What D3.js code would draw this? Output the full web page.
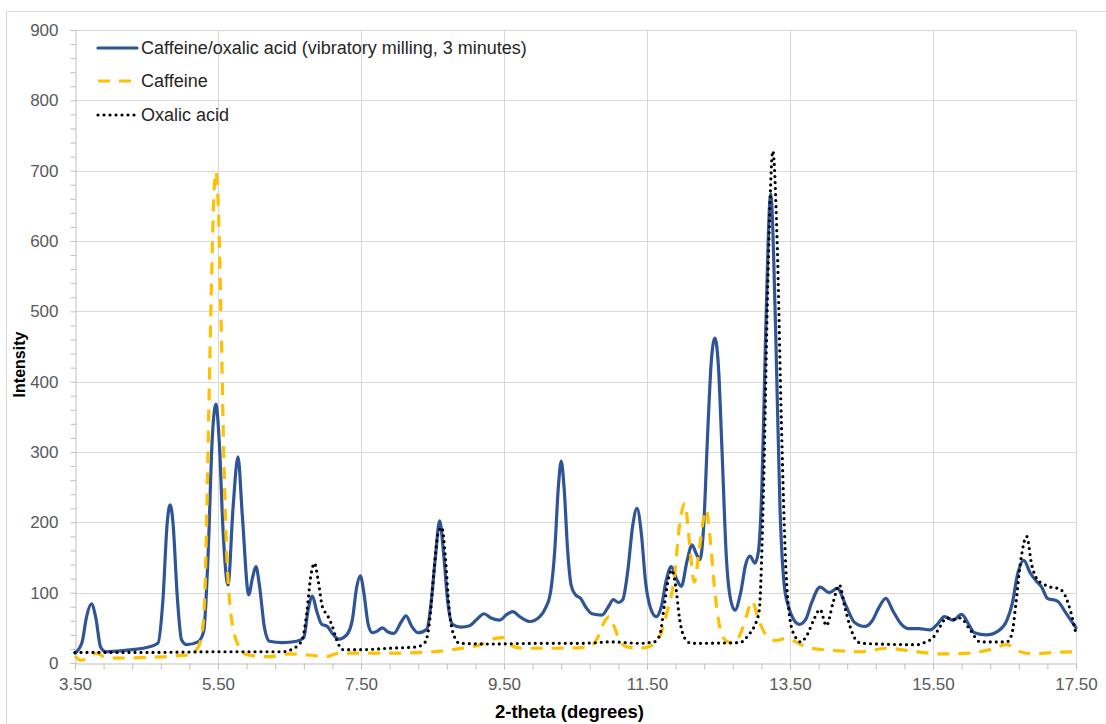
<!DOCTYPE html>
<html>
<head>
<meta charset="utf-8">
<script src="https://cdn.jsdelivr.net/npm/d3@7"></script>
<style>
  html, body { margin: 0; padding: 0; background: #fff; }
  svg { display: block; font-family: "Liberation Sans", Arial, sans-serif; }
</style>
</head>
<body>
<svg id="chart" width="1106" height="724"></svg>
<script>
// Powder X-ray diffraction patterns: [2-theta (degrees), intensity]
const millingPattern = [
  [3.50,14],[3.60,30],[3.66,65],[3.73,84],[3.79,65],[3.86,22],[3.93,16],[4.20,18],[4.50,22],[4.66,28],
  [4.73,90],[4.79,200],[4.83,225],[4.87,200],[4.93,95],[4.99,33],[5.06,26],[5.22,30],[5.30,45],[5.36,150],
  [5.42,320],[5.47,368],[5.52,310],[5.57,190],[5.64,111],[5.71,220],[5.78,293],[5.84,210],[5.93,97],[5.98,120],
  [6.03,137],[6.08,110],[6.15,50],[6.22,31],[6.40,29],[6.60,31],[6.70,36],[6.76,75],[6.82,95],[6.88,74],
  [6.95,55],[7.03,52],[7.10,42],[7.19,34],[7.30,40],[7.38,62],[7.44,108],[7.49,124],[7.54,100],[7.60,55],
  [7.66,43],[7.72,45],[7.80,50],[7.88,44],[7.96,42],[8.06,58],[8.13,67],[8.21,52],[8.30,43],[8.42,48],
  [8.48,85],[8.54,150],[8.60,202],[8.66,150],[8.71,90],[8.78,55],[8.90,51],[9.02,53],[9.12,62],[9.22,70],
  [9.32,64],[9.44,61],[9.54,69],[9.62,73],[9.72,66],[9.86,59],[10.00,66],[10.08,78],[10.15,100],[10.21,160],
  [10.26,250],[10.30,287],[10.34,250],[10.39,160],[10.44,110],[10.50,97],[10.57,92],[10.64,80],[10.73,70],[10.87,68],
  [10.96,80],[11.03,90],[11.10,86],[11.16,90],[11.23,130],[11.30,195],[11.36,220],[11.42,185],[11.48,115],[11.55,78],
  [11.63,66],[11.70,80],[11.77,118],[11.84,137],[11.91,120],[11.98,109],[12.06,145],[12.13,168],[12.19,155],[12.24,147],
  [12.29,190],[12.35,330],[12.40,430],[12.45,462],[12.50,420],[12.55,300],[12.61,150],[12.67,90],[12.73,75],[12.81,100],
  [12.88,140],[12.94,152],[13.01,142],[13.06,160],[13.11,260],[13.16,470],[13.23,667],[13.30,470],[13.36,220],[13.42,110],
  [13.48,80],[13.55,62],[13.63,55],[13.72,62],[13.80,85],[13.92,108],[14.05,100],[14.16,106],[14.28,82],[14.40,58],
  [14.55,52],[14.65,60],[14.74,78],[14.84,92],[14.94,74],[15.05,56],[15.15,49],[15.30,49],[15.46,47],[15.56,55],
  [15.66,66],[15.78,61],[15.90,69],[16.00,55],[16.08,43],[16.25,40],[16.42,46],[16.53,60],[16.61,85],[16.68,125],
  [16.77,146],[16.86,128],[16.94,117],[17.02,108],[17.10,92],[17.24,88],[17.36,71],[17.50,50]
];

const caffeinePattern = [
  [3.50,10],[3.58,4],[3.68,7],[3.80,14],[3.90,9],[4.05,7],[4.50,8],[4.90,10],[5.10,12],[5.22,22],
  [5.28,45],[5.32,110],[5.36,300],[5.40,500],[5.44,660],[5.47,699],[5.50,660],[5.54,500],[5.58,300],[5.62,160],
  [5.66,90],[5.72,45],[5.80,22],[5.90,12],[6.20,9],[6.50,13],[6.80,11],[7.00,9],[7.20,14],[7.60,14],
  [8.00,14],[8.50,16],[8.85,20],[9.20,27],[9.38,35],[9.48,36],[9.58,26],[9.75,21],[10.30,21],[10.70,23],
  [10.82,38],[10.90,58],[10.97,66],[11.04,52],[11.12,32],[11.22,23],[11.40,21],[11.55,24],[11.68,38],[11.78,72],
  [11.88,120],[11.96,200],[12.03,227],[12.09,175],[12.16,115],[12.23,160],[12.29,205],[12.33,218],[12.38,180],[12.45,100],
  [12.52,50],[12.60,32],[12.71,28],[12.82,45],[12.90,70],[12.97,88],[13.05,65],[13.15,42],[13.30,32],[13.45,35],
  [13.58,30],[13.70,24],[13.80,21],[14.10,18],[14.50,16],[14.85,21],[15.20,17],[15.60,13],[16.00,14],[16.30,19],
  [16.53,26],[16.72,16],[16.90,13],[17.20,15],[17.50,16]
];

const oxalicPattern = [
  [3.50,15],[4.50,15],[5.50,16],[6.40,16],[6.58,22],[6.68,34],[6.74,70],[6.80,125],[6.85,142],[6.90,118],
  [6.96,80],[7.03,68],[7.10,52],[7.17,30],[7.25,19],[7.50,19],[7.90,21],[8.28,23],[8.40,30],[8.46,60],
  [8.52,130],[8.58,185],[8.63,193],[8.68,150],[8.73,80],[8.79,42],[8.88,28],[9.30,27],[10.00,28],[10.60,28],
  [11.00,30],[11.40,28],[11.60,30],[11.68,40],[11.74,80],[11.80,120],[11.85,132],[11.90,110],[11.96,60],[12.03,35],
  [12.12,28],[12.80,29],[12.92,40],[13.00,52],[13.07,75],[13.13,250],[13.19,540],[13.26,728],[13.32,600],[13.38,340],
  [13.44,140],[13.50,62],[13.57,38],[13.65,30],[13.74,40],[13.83,61],[13.92,76],[14.01,53],[14.10,85],[14.19,111],
  [14.27,78],[14.34,52],[14.42,33],[14.50,28],[15.27,26],[15.40,30],[15.50,36],[15.60,52],[15.69,64],[15.78,62],
  [15.88,64],[16.02,47],[16.16,30],[16.53,30],[16.60,40],[16.66,85],[16.72,140],[16.81,180],[16.88,140],[16.95,120],
  [17.05,112],[17.14,108],[17.25,106],[17.32,101],[17.42,75],[17.50,42]
];

const seriesNames = [
  "Caffeine/oxalic acid (vibratory milling, 3 minutes)",
  "Caffeine",
  "Oxalic acid"
];

const xMajorTicks = [3.5, 5.5, 7.5, 9.5, 11.5, 13.5, 15.5, 17.5];
const yMajorTicks = [0, 100, 200, 300, 400, 500, 600, 700, 800, 900];
const xTitle = "2-theta (degrees)";
const yTitle = "Intensity";

// ---- layout ----
const svg = d3.select("#chart");
const W = 1106, H = 724;
const plot = { left: 75, right: 1076, top: 30, bottom: 663 };

const x = d3.scaleLinear().domain([3.5, 17.5]).range([plot.left, plot.right]);
const y = d3.scaleLinear().domain([0, 900]).range([plot.bottom, plot.top]);

// chart frame
svg.append("rect")
  .attr("x", 6.5).attr("y", 11.5)
  .attr("width", W + 10).attr("height", H + 10)
  .attr("fill", "#fff").attr("stroke", "#d9d9d9").attr("stroke-width", 1);

const gridColor = "#d9d9d9";
const axisColor = "#bfbfbf";
const labelColor = "#595959";

// horizontal gridlines
svg.append("g")
  .selectAll("line")
  .data(yMajorTicks.filter(d => d > 0))
  .join("line")
  .attr("x1", plot.left).attr("x2", plot.right)
  .attr("y1", d => Math.round(y(d)) + 0.5).attr("y2", d => Math.round(y(d)) + 0.5)
  .attr("stroke", gridColor).attr("stroke-width", 1);

// vertical gridlines
svg.append("g")
  .selectAll("line")
  .data(xMajorTicks.filter(d => d > 3.5))
  .join("line")
  .attr("y1", plot.top).attr("y2", plot.bottom)
  .attr("x1", d => Math.round(x(d)) + 0.5).attr("x2", d => Math.round(x(d)) + 0.5)
  .attr("stroke", gridColor).attr("stroke-width", 1);

// x axis with minor ticks every 0.4 degrees
const xMinor = d3.range(0, 36).map(i => +(3.5 + i * 0.4).toFixed(2));
const xAxis = d3.axisBottom(x)
  .tickValues(xMinor)
  .tickSize(6)
  .tickFormat(d => xMajorTicks.some(t => Math.abs(t - d) < 1e-6) ? d3.format(".2f")(d) : "");
const gx = svg.append("g")
  .attr("transform", `translate(0,${plot.bottom + 0.5})`)
  .call(xAxis);
gx.select(".domain").attr("stroke", axisColor);
gx.selectAll(".tick line").attr("stroke", axisColor);
gx.selectAll(".tick text")
  .attr("fill", labelColor)
  .attr("font-size", 17)
  .attr("font-family", "Liberation Sans, Arial, sans-serif")
  .attr("dy", "1.05em");

// y axis with minor ticks every 20
const yMinor = d3.range(0, 46).map(i => i * 20);
const yAxis = d3.axisLeft(y)
  .tickValues(yMinor)
  .tickSize(5)
  .tickPadding(12)
  .tickFormat(d => d % 100 === 0 ? d3.format("d")(d) : "");
const gy = svg.append("g")
  .attr("transform", `translate(${plot.left + 0.5},0)`)
  .call(yAxis);
gy.select(".domain").attr("stroke", axisColor);
gy.selectAll(".tick line").attr("stroke", axisColor);
gy.selectAll(".tick text")
  .attr("fill", labelColor)
  .attr("font-size", 17)
  .attr("font-family", "Liberation Sans, Arial, sans-serif");
// no minor tick on the baseline
gy.selectAll(".tick").filter(d => d === 0).select("line").attr("stroke", "none");

// axis titles
svg.append("text")
  .attr("x", (plot.left + plot.right) / 2 - 6)
  .attr("y", 718)
  .attr("text-anchor", "middle")
  .attr("font-size", 18.5)
  .attr("font-weight", "bold")
  .attr("fill", "#000")
  .text(xTitle);

svg.append("text")
  .attr("transform", `translate(25,${(plot.top + plot.bottom) / 2 + 18}) rotate(-90)`)
  .attr("text-anchor", "middle")
  .attr("font-size", 16)
  .attr("font-weight", "bold")
  .attr("fill", "#000")
  .text(yTitle);

// ---- series ----
const styles = [
  { color: "#2F5597", width: 3.2, dash: null, cap: "round" },
  { color: "#FFC000", width: 3.2, dash: "12,9", cap: "butt" },
  { color: "#000000", width: 3.2, dash: "0,6", cap: "round" }
];
const patterns = [millingPattern, caffeinePattern, oxalicPattern];

const line = d3.line()
  .x(d => x(d[0]))
  .y(d => y(d[1]))
  .curve(d3.curveMonotoneX);

svg.append("defs").append("clipPath").attr("id", "plotClip")
  .append("rect")
  .attr("x", plot.left - 2).attr("y", plot.top - 2)
  .attr("width", plot.right - plot.left + 4).attr("height", plot.bottom - plot.top + 4);

const gSeries = svg.append("g").attr("clip-path", "url(#plotClip)");
patterns.forEach((data, i) => {
  const s = styles[i];
  gSeries.append("path")
    .datum(data)
    .attr("fill", "none")
    .attr("stroke", s.color)
    .attr("stroke-width", s.width)
    .attr("stroke-linejoin", "round")
    .attr("stroke-linecap", s.cap)
    .attr("stroke-dasharray", s.dash)
    .attr("d", line);
});

// ---- legend ----
const legend = svg.append("g").attr("transform", "translate(98,0)");
const legendRows = [48, 81, 115];
seriesNames.forEach((name, i) => {
  const s = styles[i];
  const row = legend.append("g").attr("transform", `translate(0,${legendRows[i]})`);
  row.append("line")
    .attr("x1", 0).attr("x2", 39).attr("y1", 0).attr("y2", 0)
    .attr("stroke", s.color)
    .attr("stroke-width", s.width)
    .attr("stroke-linecap", s.cap)
    .attr("stroke-dasharray", s.dash);
  row.append("text")
    .attr("x", 43).attr("y", 0).attr("dy", "0.35em")
    .attr("font-size", 18)
    .attr("fill", "#262626")
    .text(name);
});
</script>
</body>
</html>
